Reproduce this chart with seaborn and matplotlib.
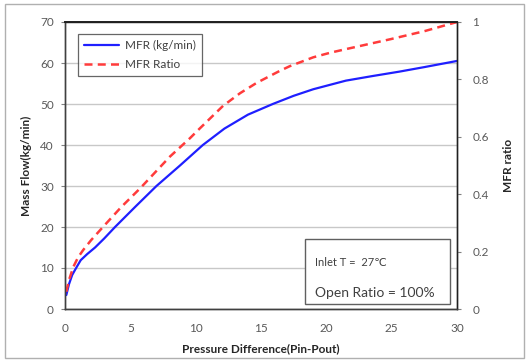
import matplotlib
matplotlib.use("Agg")
import matplotlib.pyplot as plt
import seaborn as sns
import pandas as pd
from matplotlib.patches import Rectangle
from matplotlib.lines import Line2D

# Data
dp_mfr = [0.1, 0.3, 0.55, 0.85, 1.2, 1.7, 2.3, 3.0, 3.83, 5.4, 7.0, 8.8, 10.55, 12.2, 14.0, 15.9, 17.5, 19.0, 21.5, 23.5, 25.6, 27.5, 30.0]
mfr = [3.4, 6.0, 8.3, 10.0, 11.9, 13.4, 15.0, 17.2, 20.0, 25.0, 30.0, 35.0, 40.0, 44.0, 47.4, 50.0, 52.0, 53.6, 55.7, 56.8, 57.9, 59.0, 60.5]

dp_ratio = [0.1, 0.3, 0.64, 1.0, 1.4, 2.0, 2.93, 4.3, 5.74, 8.03, 9.56, 10.2, 12.1, 13.4, 14.67, 16.45, 17.2, 19.0, 20.3, 21.55, 24.9, 27.5, 30.0]
ratio = [0.06, 0.10, 0.147, 0.18, 0.206, 0.24, 0.287, 0.355, 0.42, 0.531, 0.595, 0.624, 0.708, 0.752, 0.788, 0.830, 0.846, 0.877, 0.893, 0.906, 0.940, 0.968, 1.0]

x_ticks = [0, 5, 10, 15, 20, 25, 30]
y_ticks = [0, 10, 20, 30, 40, 50, 60, 70]
r_ticks = [0, 0.2, 0.4, 0.6, 0.8, 1.0]
r_labels = ["0", "0.2", "0.4", "0.6", "0.8", "1"]

sns.set_theme(style="white")
plt.rcParams['font.family'] = ['Lato', 'DejaVu Sans']

df_m = pd.DataFrame({"dp": dp_mfr, "mfr": mfr})
df_r = pd.DataFrame({"dp": dp_ratio, "ratio": ratio})

fig = plt.figure(figsize=(5.28, 3.62), dpi=100)
fig.patch.set_facecolor("white")
ax = fig.add_axes([65/528, 53/362, 392/528, 287/362])
ax2 = ax.twinx()

blue = "#1f1fff"
red = "#ff3b3b"
sns.lineplot(data=df_m, x="dp", y="mfr", ax=ax, color=blue, linewidth=1.6, legend=False)
sns.lineplot(data=df_r, x="dp", y="ratio", ax=ax2, color=red, linewidth=1.8, legend=False)
ax.lines[0].set_solid_joinstyle("round")
ax2.lines[0].set_dashes([3.2, 2.1])

ax.set_xlim(0, 30)
ax.set_ylim(0, 70)
ax2.set_ylim(0, 1)
ax.set_xticks(x_ticks)
ax.set_yticks(y_ticks)
ax2.set_yticks(r_ticks)
ax2.set_yticklabels(r_labels)

ax.yaxis.grid(True, color="#c8c8c8", linewidth=1.0)
ax.xaxis.grid(False)
ax2.grid(False)
ax.set_axisbelow(True)

tick_color = "#595959"
for a in (ax, ax2):
    a.tick_params(axis="both", which="major", labelsize=8.5, labelcolor=tick_color,
                  length=3, width=0.8, color="#808080", direction="out")
    for s in a.spines.values():
        s.set_color("#404040")
        s.set_linewidth(1.0)
ax.tick_params(axis="x", pad=7)
ax.tick_params(axis="y", pad=5)
ax2.tick_params(axis="y", pad=8)
for s in ("top", "right"):
    ax2.spines[s].set_color("#202020")
ax2.spines["top"].set_linewidth(1.4)

ax.set_xlabel("Pressure Difference(Pin-Pout)", fontsize=8.5, fontweight="bold", color="#262626", labelpad=7)
ax.set_ylabel("Mass Flow(kg/min)", fontsize=8.5, fontweight="bold", color="#262626", labelpad=6)
ax2.set_ylabel("MFR ratio", fontsize=8.5, fontweight="bold", color="#262626", labelpad=10)

handles = [Line2D([0], [0], color=blue, linewidth=1.6),
           Line2D([0], [0], color=red, linewidth=1.8, dashes=[3.2, 2.1])]
leg = ax.legend(handles, ["MFR (kg/min)", "MFR Ratio"], loc="upper left",
                bbox_to_anchor=(7/392, 1 - 6/287), fontsize=8.5, frameon=True,
                fancybox=False, edgecolor="#404040", handlelength=3.0,
                borderpad=0.5, labelspacing=0.7, handletextpad=0.5)
leg.get_frame().set_linewidth(0.9)
for t in leg.get_texts():
    t.set_color("#404040")
leg.set_zorder(5)

# annotation box
W, H = 528, 362
box = Rectangle((305/W, (H-304)/H), 145/W, 65/H, transform=fig.transFigure,
                facecolor="white", edgecolor="#606060", linewidth=1.0, zorder=10)
fig.patches.append(box)
fig.text(315/W, (H-262)/H, "Inlet T =  27\u2103", fontsize=8, color="#404040",
         va="center", ha="left", zorder=11, family=['Lato', 'DejaVu Sans'])
fig.text(315/W, (H-293)/H, "Open Ratio = 100%", fontsize=10, color="#404040",
         va="center", ha="left", zorder=11)

# outer border
border = Rectangle((4.5/W, 4/H), 519/W, 354/H, transform=fig.transFigure,
                   facecolor="none", edgecolor="#b0b0b0", linewidth=1.0)
fig.patches.append(border)

fig.savefig("out.png", dpi=100)
